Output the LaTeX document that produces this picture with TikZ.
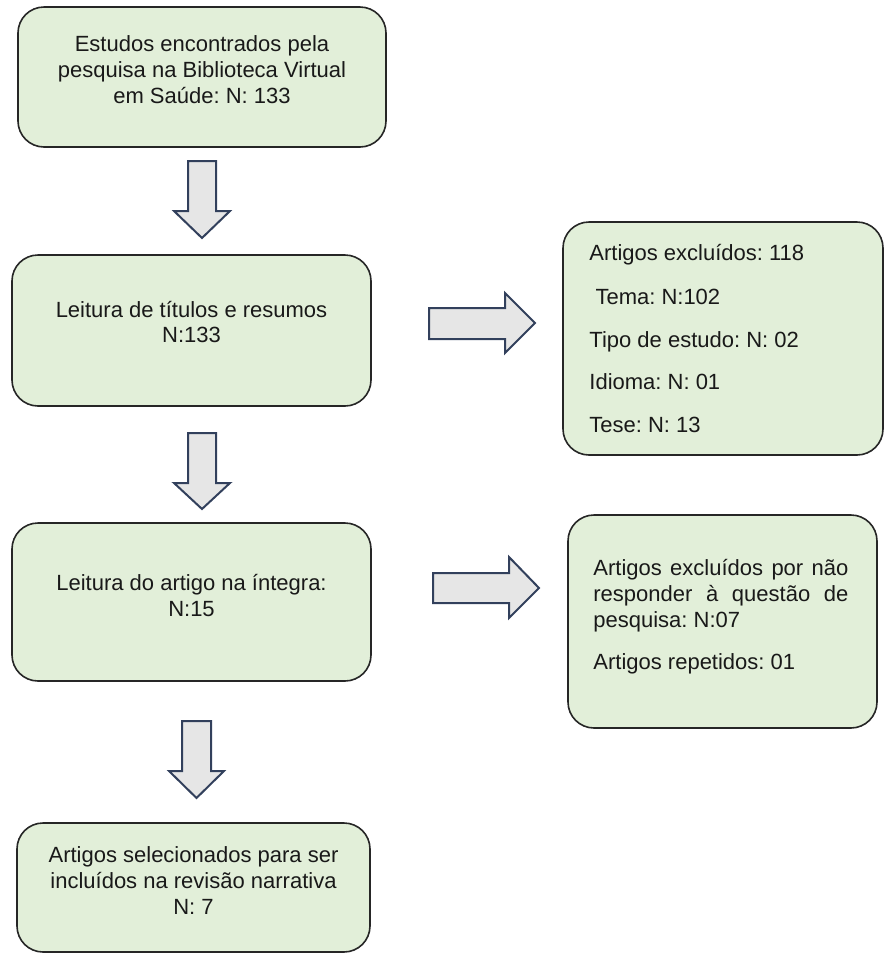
\documentclass[tikz,border=0pt]{standalone}
\usepackage{fontspec}
\setmainfont{Liberation Sans}
\frenchspacing
\definecolor{boxgreen}{RGB}{226,239,217}
\definecolor{arrowfill}{RGB}{230,230,230}
\definecolor{arrowline}{RGB}{50,64,92}
\tikzstyle{step_box} = [
    rectangle,
    rounded corners=13pt,
    draw=black!85,
    fill=boxgreen,
    line width=0.8pt,
    inner sep=0pt
]
\tikzstyle{box_text} = [
    font=\fontsize{11}{13}\selectfont,
    text=black!90,
    align=center,
    inner sep=0pt
]
\tikzstyle{side_text} = [
    font=\fontsize{11}{13}\selectfont,
    text=black!90,
    anchor=west,
    inner sep=0pt
]
\tikzstyle{block_arrow} = [
    draw=arrowline,
    fill=arrowfill,
    line width=1pt,
    line join=miter
]
\begin{document}
\begin{tikzpicture}[x=0.5pt, y=-0.5pt]
\useasboundingbox (0,0) rectangle (886,954);

% main column
\node [step_box, minimum width=184pt, minimum height=70pt] (b1) at (202,77) {};
\node [box_text] (t1) at (202,70) {Estudos encontrados pela\\pesquisa na Biblioteca Virtual\\em Saúde: N: 133};

\node [step_box, minimum width=179.5pt, minimum height=75.5pt] (b2) at (191.5,330.5) {};
\node [box_text] (t2) at (191.5,322) {Leitura de títulos e resumos\\N:133};

\node [step_box, minimum width=179.5pt, minimum height=79pt] (b3) at (191.5,602) {};
\node [box_text] (t3) at (191.5,595) {Leitura do artigo na íntegra:\\N:15};

\node [step_box, minimum width=176.5pt, minimum height=64.5pt] (b4) at (193.5,887.5) {};
\node [box_text] (t4) at (193.5,881) {Artigos selecionados para ser\\incluídos na revisão narrativa\\N: 7};

% excluded
\node [step_box, minimum width=160pt, minimum height=116.5pt] (r1) at (723,338.5) {};
\node [side_text, align=left] (s1) at (589,339) {Artigos excluídos: 118\\[8.5pt]\ Tema: N:102\\[8.5pt]Tipo de estudo: N: 02\\[8.5pt]Idioma: N: 01\\[8.5pt]Tese: N: 13};

\node [step_box, minimum width=154.5pt, minimum height=106.5pt] (r2) at (722.5,621.5) {};
\node [side_text, text width=127.5pt, align=justify] (s2) at (593,617) {Artigos excluídos por não responder à questão de pesquisa: N:07\\[8pt]Artigos repetidos: 01};

% arrows
\draw [block_arrow] (188,161) -- (216,161) -- (216,211) -- (230,211) -- (202,238) -- (174,211) -- (188,211) -- cycle;
\draw [block_arrow] (188,433) -- (216,433) -- (216,483) -- (230,483) -- (202,509) -- (174,483) -- (188,483) -- cycle;
\draw [block_arrow] (182,721) -- (211,721) -- (211,771) -- (224,771) -- (196.5,798) -- (169,771) -- (182,771) -- cycle;
\draw [block_arrow] (429,308) -- (505,308) -- (505,293) -- (535,323) -- (505,353) -- (505,339) -- (429,339) -- cycle;
\draw [block_arrow] (433,573) -- (509,573) -- (509,557) -- (539,588) -- (509,618) -- (509,603) -- (433,603) -- cycle;
\end{tikzpicture}
\end{document}
